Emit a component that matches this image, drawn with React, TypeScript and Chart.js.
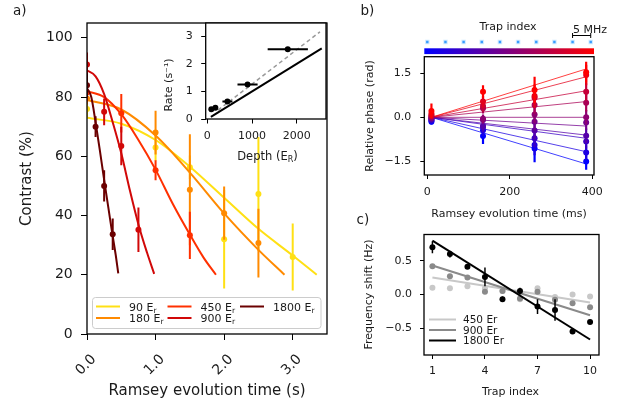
import React, { useEffect, useRef } from 'react';
import { Chart, registerables } from 'chart.js';
Chart.register(...registerables);

const W = 623;
const H = 415;
const FF = "'DejaVu Sans', 'Liberation Sans', sans-serif";
const INK = '#1a1a1a';

// ---------------- panel a : contrast decay ----------------
const depthNames = ['90', '180', '450', '900', '1800'];
const depthColors = ['#ffe014', '#ff8a00', '#ff3000', '#d10808', '#6b0000'];

const time90 = [0, 1.0, 1.5, 2.0, 2.5, 3.0];
const contrast90 = [76, 63, 56.3, 32, 47.3, 26];
const err90 = [3, 4.5, 4, 16.6, 19.2, 11.3];
const time180 = [0, 1.0, 1.5, 2.0, 2.5];
const contrast180 = [79.5, 68, 48.7, 40.8, 30.7];
const err180 = [2, 7.4, 18.7, 9, 11.6];
const time450 = [0, 0.5, 1.0, 1.5];
const contrast450 = [81.5, 74.5, 55.3, 33.3];
const err450 = [3, 6.5, 3.4, 8];
const time900 = [0, 0.25, 0.5, 0.75];
const contrast900 = [91, 75, 63.5, 35.2];
const err900 = [4, 4.5, 6.5, 7.5];
const time1800 = [0, 0.125, 0.25, 0.375];
const contrast1800 = [84, 70, 50, 33.7];
const err1800 = [4, 3.5, 5.3, 5.3];

const fitTime90 = [0, 0.5, 1.0, 1.5, 2.0, 2.5, 3.0, 3.35];
const fitContrast90 = [73, 71, 65.5, 56.5, 46, 35.5, 26.5, 20];
const fitTime180 = [0, 0.5, 1.0, 1.5, 2.0, 2.5, 2.88];
const fitContrast180 = [79, 75.8, 67, 54.5, 40.7, 28.4, 20];
const fitTime450 = [0, 0.25, 0.5, 0.75, 1.0, 1.25, 1.5, 1.7, 1.88];
const fitContrast450 = [82, 80, 74.2, 65.5, 55.5, 44, 33.6, 25.8, 20];
const fitTime900 = [0, 0.125, 0.25, 0.375, 0.5, 0.625, 0.75, 0.875, 0.98];
const fitContrast900 = [89, 87, 81, 71.5, 61, 48.5, 37, 27.5, 20.3];
const fitTime1800 = [0, 0.0625, 0.125, 0.1875, 0.25, 0.3125, 0.375, 0.42, 0.456];
const fitContrast1800 = [83, 80, 71.5, 62, 52, 42.5, 33, 26.5, 20.5];

const aTimeTicks = [0, 1, 2, 3];
const aContrastTicks = [0, 20, 40, 60, 80, 100];

// ---------------- inset : rate vs depth ----------------
const insetDepth = [90, 180, 450, 900, 1800];
const insetRate = [0.35, 0.41, 0.63, 1.25, 2.52];
const insetDepthErr = [20, 40, 112, 225, 450];
const insetRateErr = [0.03, 0.03, 0.03, 0.03, 0.07];
const insetFitDepth = [80, 2560];
const insetFitRate = [0.08, 2.55];
const insetDashDepth = [240, 2520];
const insetDashRate = [0.32, 3.15];
const insetDepthTicks = [0, 1000, 2000];
const insetRateTicks = [0, 1, 2, 3];

// ---------------- panel b : relative phase ----------------
const trapIndex = [1, 2, 3, 4, 5, 6, 7, 8, 9, 10];
const bTimes = [10, 135, 260, 385];
const phaseAt10 = [-0.15, -0.11, -0.08, -0.05, -0.03, 0.0, 0.03, 0.07, 0.12, 0.22];
const phaseAt135 = [-0.64, -0.44, -0.33, -0.3, -0.09, -0.05, 0.31, 0.39, 0.54, 0.88];
const phaseAt260 = [-1.07, -0.95, -0.72, -0.45, -0.15, 0.1, 0.42, 0.67, 0.73, 0.94];
const phaseAt385 = [-1.52, -1.21, -0.83, -0.63, -0.18, 0.0, 0.5, 0.88, 1.45, 1.55];
const errAt10 = [0.1, 0.1, 0.1, 0.1, 0.1, 0.1, 0.1, 0.12, 0.15, 0.25];
const errAt135 = [0.28, 0.2, 0.18, 0.15, 0.15, 0.15, 0.18, 0.2, 0.2, 0.22];
const errAt260 = [0.47, 0.35, 0.3, 0.3, 0.3, 0.3, 0.3, 0.35, 0.4, 0.45];
const errAt385 = [0.28, 0.25, 0.25, 0.25, 0.25, 0.25, 0.3, 0.3, 0.35, 0.36];
const bFitAnchor = { time: 10, phase: 0 };
const bFitEndTime = 385;
const bFitEndPhase = [-1.6, -1.18, -0.72, -0.61, -0.3, 0.0, 0.54, 0.91, 1.39, 1.66];
const bTimeTicks = [0, 200, 400];
const bPhaseTicks = [-1.5, 0, 1.5];

// ---------------- panel c : frequency shift ----------------
const shift450 = [0.1, 0.09, 0.12, 0.09, 0.05, -0.07, 0.09, -0.04, 0.0, -0.03];
const shift900 = [0.42, 0.27, 0.25, 0.04, 0.05, -0.06, 0.04, -0.08, -0.13, -0.19];
const shift1800 = [0.7, 0.6, 0.41, 0.26, -0.07, 0.05, -0.18, -0.23, -0.55, -0.41];
const shiftErr1800 = [0.09, 0.05, 0.03, 0.14, 0.04, 0.05, 0.11, 0.16, 0.03, 0.02];
const cFitTrap = [1, 10];
const cFit450 = [0.25, -0.12];
const cFit900 = [0.43, -0.31];
const cFit1800 = [0.8, -0.67];
const cNames = ['450 Er', '900 Er', '1800 Er'];
const cColors = ['#c8c8c8', '#8a8a8a', '#000000'];
const cTrapTicks = [1, 4, 7, 10];
const cShiftTicks = [-0.5, 0, 0.5];

// ---------------- helpers ----------------
const pts = (xs: number[], ys: number[]) => xs.map((x, i) => ({ x, y: ys[i] }));
const vErr = (xs: number[], ys: number[], es: number[]) => {
  const out: any[] = [];
  xs.forEach((x, i) => {
    out.push({ x, y: ys[i] - es[i] }, { x, y: ys[i] + es[i] }, { x, y: null });
  });
  return out;
};
const hErr = (xs: number[], ys: number[], es: number[]) => {
  const out: any[] = [];
  xs.forEach((x, i) => {
    out.push({ x: x - es[i], y: ys[i] }, { x: x + es[i], y: ys[i] }, { x, y: null });
  });
  return out;
};
const fmtSigned = (d: number) => (v: number) =>
  (v < 0 ? '\u2212' : '') + Math.abs(v).toFixed(d);
const trapColor = (k: number, a = 1) => {
  const f = k / 9;
  return `rgba(${Math.round(255 * f)},0,${Math.round(255 * (1 - f))},${a})`;
};

function linAxis(o: {
  min: number; max: number; ticks: number[]; fmt: (v: number) => string; size: number;
  tickLen: number; pad: number; box: number; axis: 'x' | 'y'; labels?: boolean;
}) {
  return {
    type: 'linear',
    min: o.min,
    max: o.max,
    afterBuildTicks: (s: any) => { s.ticks = o.ticks.map((v) => ({ value: v })); },
    afterFit: (s: any) => { if (o.axis === 'x') s.height = o.box; else s.width = o.box; },
    ticks: {
      display: o.labels !== false,
      autoSkip: false, maxRotation: 0, minRotation: 0,
      padding: o.pad,
      font: { family: FF, size: o.size },
      color: INK,
      callback: (v: any) => o.fmt(Number(v)),
    },
    grid: { display: true, drawOnChartArea: false, drawTicks: true, tickLength: o.tickLen, color: '#000', lineWidth: 1 },
    border: { display: false },
  };
}

type Part = { t: string; s?: number; dy?: number };
function runs(ctx: CanvasRenderingContext2D, parts: Part[], x: number, y: number, size: number, align: 'left' | 'center', rot = 0) {
  ctx.save();
  ctx.translate(x, y);
  if (rot) ctx.rotate(rot);
  ctx.fillStyle = INK;
  ctx.textBaseline = 'alphabetic';
  ctx.textAlign = 'left';
  const widths = parts.map((p) => { ctx.font = `${size * (p.s || 1)}px ${FF}`; return ctx.measureText(p.t).width; });
  const total = widths.reduce((a, b) => a + b, 0);
  let cx = align === 'center' ? -total / 2 : 0;
  parts.forEach((p, i) => {
    ctx.font = `${size * (p.s || 1)}px ${FF}`;
    ctx.fillText(p.t, cx, (p.dy || 0) * size);
    cx += widths[i];
  });
  ctx.restore();
}
const txt = (ctx: CanvasRenderingContext2D, s: string, x: number, y: number, size: number, align: 'left' | 'center' = 'center', rot = 0) =>
  runs(ctx, [{ t: s }], x, y, size, align, rot);

const framePlugin = (lw: number) => ({
  id: 'frame',
  afterDatasetsDraw(chart: any) {
    const { ctx, chartArea: a } = chart;
    ctx.save();
    ctx.strokeStyle = '#000';
    ctx.lineWidth = lw;
    ctx.strokeRect(a.left, a.top, a.right - a.left, a.bottom - a.top);
    ctx.restore();
  },
});

function withOrder(ds: any[]) {
  return ds.map((d, i) => ({ ...d, order: ds.length - i }));
}

function makeChart(canvas: HTMLCanvasElement, datasets: any[], scales: any, padding: any, plugins: any[]) {
  return new Chart(canvas, {
    type: 'scatter',
    data: { datasets: withOrder(datasets) },
    options: {
      animation: false,
      responsive: false,
      events: [],
      layout: { padding },
      plugins: { legend: { display: false }, tooltip: { enabled: false } },
      scales,
    } as any,
    plugins,
  });
}

export default function App() {
  const r0 = useRef<HTMLCanvasElement>(null);
  const r1 = useRef<HTMLCanvasElement>(null);
  const r2 = useRef<HTMLCanvasElement>(null);
  const r3 = useRef<HTMLCanvasElement>(null);
  const r4 = useRef<HTMLCanvasElement>(null);

  useEffect(() => {
    const charts: Chart[] = [];

    // ----- panel a -----
    const series = [
      { t: time90, c: contrast90, e: err90, ft: fitTime90, fc: fitContrast90 },
      { t: time180, c: contrast180, e: err180, ft: fitTime180, fc: fitContrast180 },
      { t: time450, c: contrast450, e: err450, ft: fitTime450, fc: fitContrast450 },
      { t: time900, c: contrast900, e: err900, ft: fitTime900, fc: fitContrast900 },
      { t: time1800, c: contrast1800, e: err1800, ft: fitTime1800, fc: fitContrast1800 },
    ];
    const dsA: any[] = [];
    series.forEach((s, k) => {
      const col = depthColors[k];
      dsA.push({ data: vErr(s.t, s.c, s.e), showLine: true, borderColor: col, borderWidth: 2, pointRadius: 0 });
      dsA.push({ data: pts(s.t, s.c), showLine: false, pointRadius: 3, backgroundColor: col, borderWidth: 0 });
      dsA.push({ data: pts(s.ft, s.fc), showLine: true, borderColor: col, borderWidth: 2, pointRadius: 0, cubicInterpolationMode: 'monotone' });
    });
    const aText = {
      id: 'aText',
      afterDraw(chart: any) {
        const ctx = chart.ctx as CanvasRenderingContext2D;
        const xs = chart.scales.x;
        aTimeTicks.forEach((v) => {
          ctx.save();
          ctx.translate(xs.getPixelForValue(v) - 1, 365);
          ctx.rotate(-Math.PI / 4);
          ctx.font = `14px ${FF}`;
          ctx.fillStyle = INK;
          ctx.textAlign = 'center';
          ctx.textBaseline = 'middle';
          ctx.fillText(v.toFixed(1), 0, 0);
          ctx.restore();
        });
        txt(ctx, 'Ramsey evolution time (s)', 207, 395, 15);
        txt(ctx, 'Contrast (%)', 31, 178.5, 15, 'center', -Math.PI / 2);
        txt(ctx, 'a)', 13, 15, 13.5, 'left');
        // legend
        ctx.save();
        ctx.fillStyle = 'rgba(255,255,255,0.8)';
        ctx.strokeStyle = '#cccccc';
        ctx.lineWidth = 1;
        ctx.beginPath();
        (ctx as any).roundRect(92.5, 297.5, 228.5, 31, 3);
        ctx.fill();
        ctx.stroke();
        ctx.restore();
        const colX = [96, 167.5, 240];
        const rowY = [306.5, 318];
        depthNames.forEach((n, k) => {
          const cx = colX[Math.floor(k / 2)];
          const cy = rowY[k % 2];
          ctx.save();
          ctx.strokeStyle = depthColors[k];
          ctx.lineWidth = 2;
          ctx.beginPath();
          ctx.moveTo(cx, cy);
          ctx.lineTo(cx + 24, cy);
          ctx.stroke();
          ctx.restore();
          runs(ctx, [{ t: n + ' E' }, { t: 'r', s: 0.7, dy: 0.2 }], cx + 33, cy + 4, 11, 'left');
        });
      },
    };
    charts.push(makeChart(r0.current!, dsA, {
      x: linAxis({ min: 0, max: 3.5, ticks: aTimeTicks, fmt: (v) => v.toFixed(1), size: 14, tickLen: 6, pad: 4, box: 40, axis: 'x', labels: false }),
      y: linAxis({ min: 0, max: 105, ticks: aContrastTicks, fmt: (v) => String(v), size: 14, tickLen: 6, pad: 8.3, box: 60, axis: 'y' }),
    }, { left: 27, top: 23, right: W - 327, bottom: H - 334 - 40 }, [framePlugin(1.3), aText]));

    // ----- inset -----
    const dsI: any[] = [
      { data: pts(insetDashDepth, insetDashRate), showLine: true, borderColor: '#999999', borderWidth: 1.5, borderDash: [4, 3], pointRadius: 0 },
      { data: pts(insetFitDepth, insetFitRate), showLine: true, borderColor: '#000', borderWidth: 2, pointRadius: 0 },
      { data: hErr(insetDepth, insetRate, insetDepthErr), showLine: true, borderColor: '#000', borderWidth: 2, pointRadius: 0 },
      { data: vErr(insetDepth, insetRate, insetRateErr), showLine: true, borderColor: '#000', borderWidth: 1.5, pointRadius: 0 },
      { data: pts(insetDepth, insetRate), showLine: false, pointRadius: 3, backgroundColor: '#000', borderWidth: 0 },
    ];
    const insetBg = {
      id: 'insetBg',
      beforeDraw(chart: any) {
        const { ctx, chartArea: a } = chart;
        ctx.save();
        ctx.fillStyle = '#fff';
        ctx.fillRect(a.left, a.top, a.right - a.left, a.bottom - a.top);
        ctx.restore();
      },
      afterDraw(chart: any) {
        const ctx = chart.ctx as CanvasRenderingContext2D;
        txt(ctx, 'Rate (s\u207B\u00B9)', 171.5, 85, 11, 'center', -Math.PI / 2);
        runs(ctx, [{ t: 'Depth (E' }, { t: 'R', s: 0.7, dy: 0.2 }, { t: ')' }], 267.5, 159.5, 11.5, 'center');
      },
    };
    charts.push(makeChart(r1.current!, dsI, {
      x: linAxis({ min: -36, max: 2655, ticks: insetDepthTicks, fmt: (v) => String(v), size: 11, tickLen: 4.5, pad: 6, box: 40, axis: 'x' }),
      y: linAxis({ min: 0, max: 3.47, ticks: insetRateTicks, fmt: (v) => String(v), size: 11, tickLen: 4.5, pad: 8.5, box: 40, axis: 'y' }),
    }, { left: 165.7, top: 23, right: W - 326, bottom: H - 119 - 40 }, [insetBg, framePlugin(1.3)]));

    // ----- header of b (trap image + colour bar) -----
    const header = {
      id: 'header',
      afterDraw(chart: any) {
        const ctx = chart.ctx as CanvasRenderingContext2D;
        const a = chart.chartArea;
        const g = ctx.createLinearGradient(a.left, 0, a.right, 0);
        g.addColorStop(0, trapColor(0));
        g.addColorStop(1, trapColor(9));
        ctx.save();
        ctx.fillStyle = g;
        ctx.fillRect(a.left, 48.3, a.right - a.left, 5.8);
        const xs = chart.scales.x;
        const x9 = xs.getPixelForValue(9);
        const x10 = xs.getPixelForValue(10);
        ctx.strokeStyle = '#000';
        ctx.lineWidth = 1;
        ctx.beginPath();
        ctx.moveTo(x9, 35.5); ctx.lineTo(x10, 35.5);
        ctx.moveTo(x9, 33); ctx.lineTo(x9, 38);
        ctx.moveTo(x10, 33); ctx.lineTo(x10, 38);
        ctx.stroke();
        ctx.restore();
        txt(ctx, 'Trap index', 508, 30, 11);
        txt(ctx, '5 MHz', 573, 33, 11, 'left');
        txt(ctx, 'b)', 360.5, 14.5, 13.5, 'left');
      },
    };
    const dsH: any[] = [
      { data: trapIndex.map((i) => ({ x: i, y: 0.5 })), showLine: false, pointStyle: 'rect', pointRadius: 3.2, backgroundColor: 'rgba(120,195,255,0.35)', borderWidth: 0 },
      { data: trapIndex.map((i) => ({ x: i, y: 0.5 })), showLine: false, pointStyle: 'rect', pointRadius: 1.7, backgroundColor: 'rgba(40,150,255,0.9)', borderWidth: 0 },
    ];
    charts.push(makeChart(r2.current!, dsH, {
      x: { type: 'linear', min: 0.835, max: 10.18, display: false },
      y: { type: 'linear', min: 0, max: 1, display: false },
    }, { left: 424.3, top: 38, right: W - 594, bottom: H - 46 }, [header]));

    // ----- panel b -----
    const phases = [phaseAt10, phaseAt135, phaseAt260, phaseAt385];
    const errs = [errAt10, errAt135, errAt260, errAt385];
    const dsB: any[] = [];
    trapIndex.forEach((_, k) => {
      dsB.push({
        data: [{ x: bFitAnchor.time, y: bFitAnchor.phase }, { x: bFitEndTime, y: bFitEndPhase[k] }],
        showLine: true, borderColor: trapColor(k, 0.75), borderWidth: 1, pointRadius: 0,
      });
    });
    trapIndex.forEach((_, k) => {
      const ys = phases.map((p) => p[k]);
      const es = errs.map((e) => e[k]);
      dsB.push({ data: vErr(bTimes, ys, es), showLine: true, borderColor: trapColor(k), borderWidth: 2.2, pointRadius: 0 });
      dsB.push({ data: pts(bTimes, ys), showLine: false, pointRadius: 3, backgroundColor: trapColor(k), borderWidth: 0 });
    });
    const bText = {
      id: 'bText',
      afterDraw(chart: any) {
        const ctx = chart.ctx as CanvasRenderingContext2D;
        txt(ctx, 'Relative phase (rad)', 373, 116, 11, 'center', -Math.PI / 2);
        txt(ctx, 'Ramsey evolution time (ms)', 509, 217, 11);
      },
    };
    charts.push(makeChart(r3.current!, dsB, {
      x: linAxis({ min: -7.3, max: 404, ticks: bTimeTicks, fmt: (v) => String(v), size: 11, tickLen: 4, pad: 7, box: 30, axis: 'x' }),
      y: linAxis({ min: -1.98, max: 2.08, ticks: bPhaseTicks, fmt: fmtSigned(1), size: 11, tickLen: 4, pad: 9, box: 40, axis: 'y' }),
    }, { left: 384.3, top: 56.7, right: W - 594, bottom: H - 175 - 30 }, [framePlugin(1.3), bText]));

    // ----- panel c -----
    const shifts = [shift450, shift900, shift1800];
    const fits = [cFit450, cFit900, cFit1800];
    const dsC: any[] = [];
    shifts.forEach((s, k) => {
      dsC.push({ data: pts(trapIndex, s), showLine: false, pointRadius: 3, backgroundColor: cColors[k], borderWidth: 0 });
      if (k === 2) dsC.push({ data: vErr(trapIndex, s, shiftErr1800), showLine: true, borderColor: '#000', borderWidth: 1.5, pointRadius: 0 });
      dsC.push({ data: pts(cFitTrap, fits[k]), showLine: true, borderColor: cColors[k], borderWidth: 2, pointRadius: 0 });
    });
    const cText = {
      id: 'cText',
      afterDraw(chart: any) {
        const ctx = chart.ctx as CanvasRenderingContext2D;
        txt(ctx, 'Frequency shift (Hz)', 372, 294.5, 11, 'center', -Math.PI / 2);
        txt(ctx, 'Trap index', 510.5, 395.3, 11);
        txt(ctx, 'c)', 356.5, 223.5, 13.5, 'left');
        const rowY = [319.5, 330, 340.5];
        cNames.forEach((n, k) => {
          ctx.save();
          ctx.strokeStyle = cColors[k];
          ctx.lineWidth = 2;
          ctx.beginPath();
          ctx.moveTo(429, rowY[k]);
          ctx.lineTo(456, rowY[k]);
          ctx.stroke();
          ctx.restore();
          txt(ctx, n, 463, rowY[k] + 3.8, 10.5, 'left');
        });
      },
    };
    charts.push(makeChart(r4.current!, dsC, {
      x: linAxis({ min: 0.52, max: 10.51, ticks: cTrapTicks, fmt: (v) => String(v), size: 11, tickLen: 4, pad: 6, box: 30, axis: 'x' }),
      y: linAxis({ min: -0.9, max: 0.89, ticks: cShiftTicks, fmt: fmtSigned(1), size: 11, tickLen: 4, pad: 8, box: 40, axis: 'y' }),
    }, { left: 384, top: 234.5, right: W - 599, bottom: H - 355 - 30 }, [framePlugin(1.3), cText]));

    return () => charts.forEach((c) => c.destroy());
  }, []);

  const cs: React.CSSProperties = { position: 'absolute', left: 0, top: 0, width: W, height: H };
  return (
    <div style={{ position: 'fixed', left: 0, top: 0, width: W, height: H, background: '#fff' }}>
      <canvas ref={r0} width={W} height={H} style={cs} />
      <canvas ref={r1} width={W} height={H} style={cs} />
      <canvas ref={r2} width={W} height={H} style={cs} />
      <canvas ref={r3} width={W} height={H} style={cs} />
      <canvas ref={r4} width={W} height={H} style={cs} />
    </div>
  );
}
